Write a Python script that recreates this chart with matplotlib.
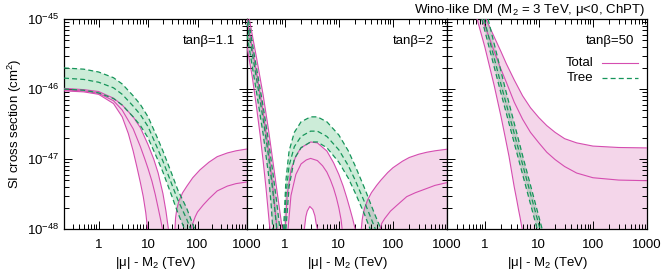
import matplotlib.pyplot as plt
import matplotlib.ticker as mticker
import numpy as np

plt.rcParams['font.family'] = ['Liberation Sans', 'DejaVu Sans']
plt.rcParams['mathtext.fontset'] = 'custom'
plt.rcParams['mathtext.rm'] = 'Liberation Sans'
plt.rcParams['mathtext.it'] = 'Liberation Sans:italic'

#%%data (1e-50 marks "below the axis")
panel_titles = ["tan\u03b2=1.1", "tan\u03b2=2", "tan\u03b2=50"]
xticks = [1, 10, 100, 1000]
xtick_labels = ["1", "10", "100", "1000"]

# tan(beta)=1.1 : tree band
p1_tree_x = [0.2, 0.5, 1, 2, 3, 5, 7, 10, 15, 20, 30, 40, 60, 90, 150]
p1_tree_hi = [2.0e-46, 1.92e-46, 1.75e-46, 1.45e-46, 1.18e-46, 8e-47, 6e-47, 4e-47, 2.1e-47, 1.3e-47, 6.2e-48, 3.6e-48, 2e-48, 9.5e-49, 3e-49]
p1_tree_mid = [1.43e-46, 1.37e-46, 1.25e-46, 1.04e-46, 8.4e-47, 5.7e-47, 4.3e-47, 2.9e-47, 1.5e-47, 9.3e-48, 4.4e-48, 2.6e-48, 1.4e-48, 6.8e-49, 2.1e-49]
p1_tree_lo = [1.0e-46, 9.6e-47, 8.8e-47, 7.3e-47, 5.9e-47, 4e-47, 3e-47, 2e-47, 1.05e-47, 6.5e-48, 3.0e-48, 1.7e-48, 8.5e-49, 4.5e-49, 1.5e-49]
# tan(beta)=1.1 : total band, falling piece
p1_tot_hi_x = [0.2, 0.5, 1, 2, 3, 5, 7, 10, 13, 16, 20, 23, 24.5, 25.8, 26.5]
p1_tot_hi_y = [1.02e-46, 9.8e-47, 9.2e-47, 7.4e-47, 5.9e-47, 4e-47, 2.8e-47, 1.6e-47, 1e-47, 6.3e-48, 3.2e-48, 1.8e-48, 1.3e-48, 1e-48, 1e-50]
p1_tot_mid_x = [0.2, 0.5, 1, 2, 3, 5, 7, 8.6, 10, 12, 14, 16, 18, 19.5, 20.3]
p1_tot_mid_y = [9.7e-47, 9.4e-47, 8.7e-47, 6.8e-47, 5e-47, 2.7e-47, 1.5e-47, 1e-47, 7.3e-48, 4.8e-48, 3.1e-48, 2e-48, 1.35e-48, 1e-48, 1e-50]
p1_tot_lo_x = [0.2, 0.5, 1, 2, 3, 4, 5, 6, 7, 8, 9, 9.7, 10.2, 26.5]
p1_tot_lo_y = [9.4e-47, 9.1e-47, 8.4e-47, 6.2e-47, 4e-47, 2.3e-47, 1.3e-47, 7.5e-48, 4.6e-48, 2.9e-48, 1.7e-48, 1.05e-48, 1e-50, 1e-50]
# tan(beta)=1.1 : total band, rising piece
p1_rise_hi_x = [34, 35, 36, 38, 42, 50, 61, 80, 112, 170, 250, 400, 600, 1000]
p1_rise_hi_y = [1e-50, 1e-48, 1.45e-48, 1.9e-48, 2.5e-48, 3.3e-48, 4.1e-48, 5.4e-48, 7e-48, 9e-48, 1.08e-47, 1.22e-47, 1.31e-47, 1.39e-47]
p1_rise_mid_x = [72, 75, 80, 90, 100, 130, 170, 250, 400, 600, 1000]
p1_rise_mid_y = [1e-50, 1e-48, 1.2e-48, 1.5e-48, 1.75e-48, 2.2e-48, 2.7e-48, 3.5e-48, 4.1e-48, 4.45e-48, 4.7e-48]

# tan(beta)=2 : steep piece near 0.2-0.9
p2_steep_x = [0.2, 0.3, 0.4, 0.5, 0.6, 0.7, 0.8]
p2_tot_hi_y = [1.5e-45, 2.8e-46, 8e-47, 2.6e-47, 9.5e-48, 4e-48, 1.9e-48]
p2_tot_hi_tail_x = [0.87, 0.9, 0.92]
p2_tot_hi_tail_y = [1.2e-48, 1e-48, 1e-50]
p2_tot_mid_x = [0.2, 0.3, 0.4, 0.5, 0.6, 0.68, 0.72, 0.74]
p2_tot_mid_y = [1e-45, 1.7e-46, 4.5e-47, 1.3e-47, 4e-48, 1.5e-48, 1e-48, 1e-50]
p2_tot_lo_x = [0.2, 0.25, 0.3, 0.35, 0.4, 0.45, 0.5, 0.53, 0.54]
p2_tot_lo_y = [4e-46, 1.5e-46, 5.5e-47, 2.2e-47, 9e-48, 3.8e-48, 1.6e-48, 1e-48, 1e-50]
p2_tree_hi_x = [0.2, 0.3, 0.4, 0.5, 0.6, 0.7, 0.78, 0.81, 0.83]
p2_tree_hi_y = [1.25e-45, 2e-46, 5.5e-47, 1.8e-47, 6.5e-48, 2.6e-48, 1.3e-48, 1e-48, 1e-50]
p2_tree_mid_x = [0.2, 0.3, 0.4, 0.5, 0.6, 0.68, 0.71, 0.73]
p2_tree_mid_y = [9e-46, 1.4e-46, 3.6e-47, 1.1e-47, 3.5e-48, 1.4e-48, 1e-48, 1e-50]
p2_tree_lo_x = [0.2, 0.3, 0.4, 0.5, 0.56, 0.6, 0.61]
p2_tree_lo_y = [6e-46, 9e-47, 2.2e-47, 6e-48, 2.2e-48, 1e-48, 1e-50]
# tan(beta)=2 : hump piece
p2_hump_hi_x = [1.0, 1.02, 1.1, 1.3, 1.6, 2, 3, 4, 6, 8, 10, 12, 14, 16, 18, 20, 21]
p2_hump_hi_y = [1e-50, 1e-48, 3e-48, 7e-48, 1.1e-47, 1.45e-47, 1.75e-47, 1.7e-47, 1.3e-47, 8.8e-48, 6e-48, 4.1e-48, 2.8e-48, 1.95e-48, 1.4e-48, 1e-48, 1e-50]
p2_hump_mid_x = [1.13, 1.15, 1.3, 1.6, 2, 2.5, 3, 4, 5, 6, 7, 8, 9, 10, 11, 11.5, 12]
p2_hump_mid_y = [1e-50, 1e-48, 3e-48, 6e-48, 8.5e-48, 9.7e-48, 1.02e-47, 9.5e-48, 8e-48, 6.5e-48, 5e-48, 3.8e-48, 2.8e-48, 2e-48, 1.35e-48, 1e-48, 1e-50]
p2_hump_lo_x = [1.0, 2.2, 2.3, 2.45, 2.6, 2.9, 3.3, 3.6, 3.8, 4.0, 4.1, 21]
p2_hump_lo_y = [1e-50, 1e-50, 1e-48, 1.5e-48, 1.8e-48, 2.1e-48, 1.9e-48, 1.55e-48, 1.2e-48, 1e-48, 1e-50, 1e-50]
p2_thump_x = [0.93, 0.95, 1.05, 1.2, 1.5, 2, 3, 4, 6, 10, 15, 20, 30, 45, 60, 100]
p2_thump_hi = [1e-50, 1e-48, 5e-48, 1.3e-47, 2.4e-47, 3.4e-47, 4e-47, 4e-47, 3.4e-47, 2.2e-47, 1.3e-47, 8e-48, 3.8e-48, 1.7e-48, 1e-48, 3e-49]
p2_thump_mid = [1e-50, 4e-49, 3e-48, 8e-48, 1.5e-47, 2.1e-47, 2.5e-47, 2.5e-47, 2.1e-47, 1.35e-47, 8e-48, 5e-48, 2.4e-48, 1.1e-48, 6e-49, 2e-49]
p2_thump_lo = [1e-50, 1e-50, 1e-48, 4e-48, 1e-47, 1.45e-47, 1.75e-47, 1.75e-47, 1.45e-47, 9e-48, 5.3e-48, 3.3e-48, 1.6e-48, 7e-49, 4e-49, 1.2e-49]
# tan(beta)=2 : rising piece
p2_rise_hi_x = [25, 26, 27, 28, 30, 34, 40, 50, 60, 80, 100, 150, 200, 300, 425, 600, 1000]
p2_rise_hi_y = [1e-50, 1e-48, 1.35e-48, 1.6e-48, 2e-48, 2.6e-48, 3.3e-48, 4.2e-48, 5e-48, 6.4e-48, 7.5e-48, 9.3e-48, 1.05e-47, 1.17e-47, 1.25e-47, 1.31e-47, 1.38e-47]
p2_rise_mid_x = [55, 58, 62, 70, 80, 90, 120, 180, 260, 425, 600, 1000]
p2_rise_mid_y = [1e-50, 1e-48, 1.2e-48, 1.4e-48, 1.6e-48, 1.8e-48, 2.2e-48, 2.9e-48, 3.3e-48, 3.8e-48, 4.2e-48, 4.6e-48]

# tan(beta)=50
p3_tot_hi_x = [1.05, 1.5, 2, 2.5, 3.5, 5, 7, 10, 14, 20, 30, 50, 100, 300, 1000]
p3_tot_hi_y = [1e-45, 5.5e-46, 3.4e-46, 2.3e-46, 1.35e-46, 8e-47, 5.4e-47, 3.9e-47, 3e-47, 2.4e-47, 1.95e-47, 1.7e-47, 1.53e-47, 1.46e-47, 1.44e-47]
p3_tot_mid_x = [0.9, 1.2, 1.5, 2, 2.5, 3.5, 5, 7, 10, 14, 20, 30, 50, 100, 300, 1000]
p3_tot_mid_y = [1e-45, 5.5e-46, 3.4e-46, 1.9e-46, 1.25e-46, 6.5e-47, 3.7e-47, 2.4e-47, 1.7e-47, 1.25e-47, 9.8e-48, 7.8e-48, 6.3e-48, 5.4e-48, 5e-48, 4.9e-48]
p3_tot_lo_x = [0.72, 1.0, 1.5, 2.0, 2.4, 2.8, 3.2, 3.5, 3.9, 4.2, 4.5, 4.7, 4.9, 5.0, 1000]
p3_tot_lo_y = [1e-45, 4e-46, 1.1e-46, 4e-47, 2e-47, 1.1e-47, 6e-48, 4e-48, 2.6e-48, 1.9e-48, 1.45e-48, 1.2e-48, 1e-48, 1e-50, 1e-50]
p3_tree_hi_x = [1.15, 2.4, 5.2, 11.5, 14]
p3_tree_mid_x = [0.97, 2.1, 4.7, 10.5, 13]
p3_tree_lo_x = [0.88, 1.9, 4.2, 9.3, 11]
p3_tree_y = [1e-45, 1e-46, 1e-47, 1e-48, 5e-49]

PINK = '#d54db0'
PINK_FILL = '#c8329a'
GREEN = '#16955a'
GREEN_FILL = '#00a040'


#%%helpers
def band(ax, xu, yu, xl, yl, color):
    xs = np.concatenate([np.asarray(xu, float), np.asarray(xl, float)[::-1]])
    ys = np.concatenate([np.asarray(yu, float), np.asarray(yl, float)[::-1]])
    ax.fill(xs, ys, color=color, alpha=0.2, lw=0, zorder=1)

def tot(ax, x, y):
    ax.plot(x, y, color=PINK, lw=0.8, zorder=3)

def tree(ax, x, y):
    ax.plot(x, y, color=GREEN, lw=0.9, ls=(0, (4, 2.5)), zorder=4)

def style(ax, label_y):
    ax.set_xscale('log')
    ax.set_yscale('log')
    ax.set_xlim(0.2, 1000)
    ax.set_ylim(1e-48, 1e-45)
    ax.xaxis.set_major_locator(mticker.FixedLocator(xticks))
    ax.xaxis.set_major_formatter(mticker.FixedFormatter(xtick_labels))
    ax.xaxis.set_minor_locator(mticker.LogLocator(subs=np.arange(2, 10), numticks=20))
    ax.xaxis.set_minor_formatter(mticker.NullFormatter())
    ax.yaxis.set_major_locator(mticker.LogLocator(numticks=10))
    ax.yaxis.set_minor_locator(mticker.LogLocator(subs=np.arange(2, 10), numticks=20))
    ax.yaxis.set_minor_formatter(mticker.NullFormatter())
    ax.tick_params(which='both', direction='in', top=True, right=True, labelsize=9.5, width=0.7)
    ax.tick_params(which='major', length=6)
    ax.tick_params(which='minor', length=3.5)
    ax.tick_params(axis='x', pad=7)
    if not label_y:
        ax.tick_params(axis='y', labelleft=False)
    for s in ax.spines.values():
        s.set_linewidth(0.9)
    ax.set_xlabel("|\u03bc| - M$_2$ (TeV)", fontsize=9.5, labelpad=3)


#%%figure
fig = plt.figure(figsize=(6.63, 2.77), dpi=100)
W, H = 663, 277
bot, hgt = (H - 229) / H, 210 / H
ax1 = fig.add_axes([64 / W, bot, 183 / W, hgt])
ax2 = fig.add_axes([247 / W, bot, 200 / W, hgt])
ax3 = fig.add_axes([447 / W, bot, 200 / W, hgt])

# panel 1
band(ax1, p1_tot_hi_x, p1_tot_hi_y, p1_tot_lo_x, p1_tot_lo_y, PINK_FILL)
band(ax1, p1_rise_hi_x, p1_rise_hi_y, [34, 1000], [1e-50, 1e-50], PINK_FILL)
band(ax1, p1_tree_x, p1_tree_hi, p1_tree_x, p1_tree_lo, GREEN_FILL)
for x, y in [(p1_tot_hi_x, p1_tot_hi_y), (p1_tot_mid_x, p1_tot_mid_y), (p1_tot_lo_x, p1_tot_lo_y),
             (p1_rise_hi_x, p1_rise_hi_y), (p1_rise_mid_x, p1_rise_mid_y)]:
    tot(ax1, x, y)
for y in (p1_tree_hi, p1_tree_mid, p1_tree_lo):
    tree(ax1, p1_tree_x, y)

# panel 2
p2_hi_x = p2_steep_x + p2_tot_hi_tail_x
p2_hi_y = p2_tot_hi_y + p2_tot_hi_tail_y
band(ax2, p2_hi_x, p2_hi_y, p2_tot_lo_x, p2_tot_lo_y, PINK_FILL)
band(ax2, p2_hump_hi_x, p2_hump_hi_y, p2_hump_lo_x, p2_hump_lo_y, PINK_FILL)
band(ax2, p2_rise_hi_x, p2_rise_hi_y, [25, 1000], [1e-50, 1e-50], PINK_FILL)
band(ax2, p2_tree_hi_x, p2_tree_hi_y, p2_tree_lo_x, p2_tree_lo_y, GREEN_FILL)
band(ax2, p2_thump_x, p2_thump_hi, p2_thump_x, p2_thump_lo, GREEN_FILL)
for x, y in [(p2_hi_x, p2_hi_y), (p2_tot_mid_x, p2_tot_mid_y), (p2_tot_lo_x, p2_tot_lo_y),
             (p2_hump_hi_x, p2_hump_hi_y), (p2_hump_mid_x, p2_hump_mid_y), (p2_hump_lo_x, p2_hump_lo_y),
             (p2_rise_hi_x, p2_rise_hi_y), (p2_rise_mid_x, p2_rise_mid_y)]:
    tot(ax2, x, y)
for x, y in [(p2_tree_hi_x, p2_tree_hi_y), (p2_tree_mid_x, p2_tree_mid_y), (p2_tree_lo_x, p2_tree_lo_y)]:
    tree(ax2, x, y)
for y in (p2_thump_hi, p2_thump_mid, p2_thump_lo):
    tree(ax2, p2_thump_x, y)

# panel 3
band(ax3, p3_tot_hi_x, p3_tot_hi_y, p3_tot_lo_x, p3_tot_lo_y, PINK_FILL)
band(ax3, p3_tree_hi_x, p3_tree_y, p3_tree_lo_x, p3_tree_y, GREEN_FILL)
for x, y in [(p3_tot_hi_x, p3_tot_hi_y), (p3_tot_mid_x, p3_tot_mid_y), (p3_tot_lo_x, p3_tot_lo_y)]:
    tot(ax3, x, y)
for x in (p3_tree_hi_x, p3_tree_mid_x, p3_tree_lo_x):
    tree(ax3, x, p3_tree_y)

for ax, title, lab in zip((ax1, ax2, ax3), panel_titles, (True, False, False)):
    style(ax, lab)
    ax.text(0.935, 0.895, title, transform=ax.transAxes, ha='right', va='center', fontsize=9.5)

ax1.set_ylabel("SI cross section (cm$^2$)", fontsize=9.5, labelpad=2)

# legend drawn by hand (gnuplot style: label then sample)
ax3.text(0.73, 0.79, "Total", transform=ax3.transAxes, ha='right', va='center', fontsize=9.5)
ax3.text(0.73, 0.72, "Tree", transform=ax3.transAxes, ha='right', va='center', fontsize=9.5)
ax3.plot([0.775, 0.955], [0.79, 0.79], transform=ax3.transAxes, color=PINK, lw=0.8)
ax3.plot([0.775, 0.955], [0.72, 0.72], transform=ax3.transAxes, color=GREEN, lw=0.9, ls=(0, (4, 2.5)))

fig.text(645 / W, 1 - 10 / H, "Wino-like DM (M$_2$ = 3 TeV, \u03bc<0, ChPT)", ha='right', va='center', fontsize=9.5)

fig.savefig("out.png", dpi=100)
